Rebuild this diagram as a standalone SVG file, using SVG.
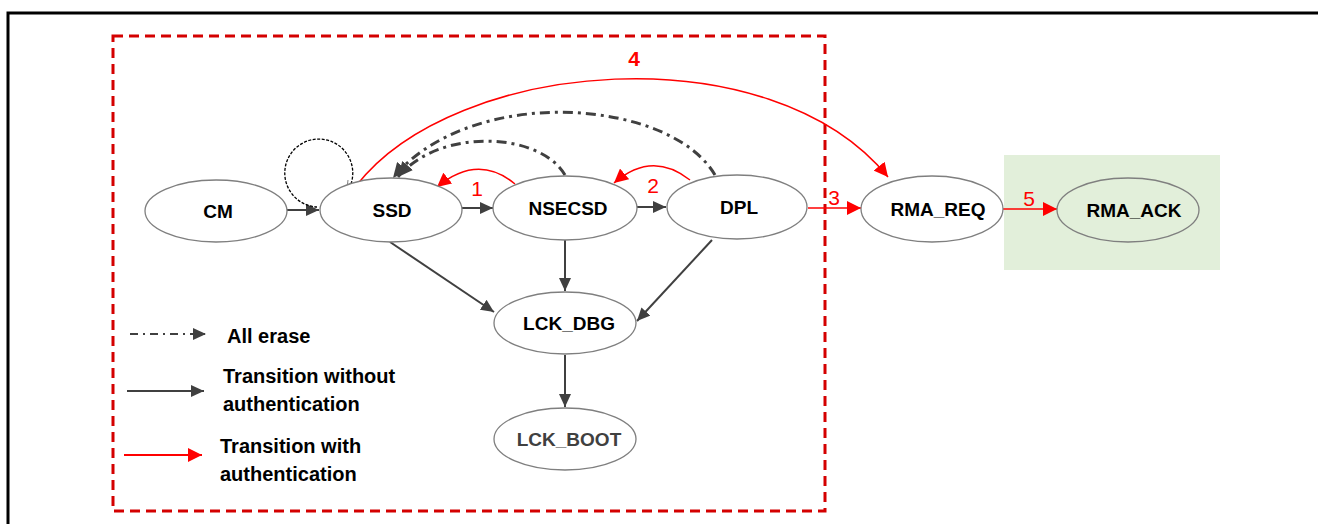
<svg xmlns="http://www.w3.org/2000/svg" width="1318" height="524" viewBox="0 0 1318 524">
  <style>
    .node ellipse { fill: #ffffff; stroke: #7f7f7f; stroke-width: 1.3; }
    .lbl { font-family: "Liberation Sans", Arial, sans-serif; font-weight: bold; font-size: 19px; fill: #000000; text-anchor: middle; }
    .leg { font-family: "Liberation Sans", Arial, sans-serif; font-weight: bold; font-size: 20px; fill: #000000; }
    .num { font-family: "Liberation Sans", Arial, sans-serif; font-size: 21px; fill: #ff0000; text-anchor: middle; }
    .plain { fill: none; stroke: #404040; stroke-width: 2; marker-end: url(#ah-gray); }
    .auth { fill: none; stroke: #ff0000; stroke-width: 1.5; marker-end: url(#ah-red); }
    .erase { fill: none; stroke: #404040; stroke-width: 3; stroke-dasharray: 10 5 3 5; marker-end: url(#ah-erase); }
  </style>
  <defs>
    <marker id="ah-gray" markerUnits="userSpaceOnUse" markerWidth="14" markerHeight="12" refX="13" refY="6" orient="auto">
      <path d="M0,0 L13,6 L0,12 z" fill="#404040"/>
    </marker>
    <marker id="ah-red" markerUnits="userSpaceOnUse" markerWidth="15" markerHeight="14" refX="14" refY="7" orient="auto">
      <path d="M0,0 L14,7 L0,14 z" fill="#ff0000"/>
    </marker>
    <marker id="ah-erase" markerUnits="userSpaceOnUse" markerWidth="16" markerHeight="14" refX="15" refY="7" orient="auto">
      <path d="M0,0 L15,7 L0,14 z" fill="#404040"/>
    </marker>
    <marker id="ah-tiny" markerUnits="userSpaceOnUse" markerWidth="6" markerHeight="6" refX="5" refY="3" orient="auto">
      <path d="M0,0 L5,3 L0,6 z" fill="#7f7f7f"/>
    </marker>
  </defs>

  <!-- frame -->
  <path d="M8,524 L8,13 L1318,13" fill="none" stroke="#000000" stroke-width="3"/>

  <!-- secure boundary -->
  <rect x="113" y="36" width="712" height="475" fill="none" stroke="#d40000" stroke-width="3" stroke-dasharray="10 6"/>

  <!-- RMA acknowledged zone -->
  <rect x="1004" y="155" width="216" height="115" fill="#e2efda"/>

  <!-- connectors -->
  <g id="connectors">
    <line class="plain" x1="287" y1="210" x2="319" y2="210"/>
    <line class="plain" x1="462" y1="208" x2="493" y2="208"/>
    <line class="plain" x1="637" y1="207" x2="666" y2="207"/>
    <line class="plain" x1="390" y1="242" x2="494" y2="312"/>
    <line class="plain" x1="565" y1="240" x2="565" y2="291"/>
    <line class="plain" x1="712" y1="240" x2="637" y2="321"/>
    <line class="plain" x1="565" y1="355" x2="565" y2="407"/>

    <!-- SSD self loop -->
    <path d="M347,192 A34,34 0 1 0 317,207" fill="none" stroke="#000000" stroke-width="1.3" stroke-dasharray="3 1.5"/>
    <line x1="348" y1="180" x2="346" y2="197" stroke="#7f7f7f" stroke-width="1" marker-end="url(#ah-tiny)"/>

    <!-- all erase -->
    <path class="erase" d="M565,175 C540,132 440,127 398,177"/>
    <path class="erase" d="M715,175 C670,98 470,84 393,178"/>

    <!-- authenticated transitions -->
    <path class="auth" d="M515,184 Q478,153 437,187"/>
    <path class="auth" d="M690,180 Q652,150 614,183"/>
    <path class="auth" d="M356,186 C455,58 770,32 888,177"/>
    <line class="auth" x1="808" y1="208" x2="861" y2="208"/>
    <line class="auth" x1="1003" y1="209" x2="1057" y2="209"/>

    <text class="num" x="477" y="196">1</text>
    <text class="num" x="653" y="193">2</text>
    <text class="num" x="834" y="205">3</text>
    <text class="num" x="634" y="66" style="font-weight:bold">4</text>
    <text class="num" x="1029" y="206">5</text>
  </g>

  <!-- states -->
  <g id="cm" class="node">
    <ellipse cx="216" cy="211" rx="71" ry="31"/>
    <text class="lbl" x="218" y="218">CM</text>
  </g>
  <g id="ssd" class="node">
    <ellipse cx="391" cy="210" rx="71" ry="32"/>
    <text class="lbl" x="392" y="217">SSD</text>
  </g>
  <g id="nsecsd" class="node">
    <ellipse cx="565" cy="208" rx="72" ry="32"/>
    <text class="lbl" x="568" y="215">NSECSD</text>
  </g>
  <g id="dpl" class="node">
    <ellipse cx="737" cy="207" rx="70" ry="32"/>
    <text class="lbl" x="739" y="214">DPL</text>
  </g>
  <g id="rma_req" class="node">
    <ellipse cx="932" cy="209" rx="71" ry="33"/>
    <text class="lbl" x="938" y="216">RMA_REQ</text>
  </g>
  <g id="rma_ack" class="node">
    <ellipse cx="1128" cy="210" rx="71" ry="32" style="fill:#e2efda"/>
    <text class="lbl" x="1134" y="217">RMA_ACK</text>
  </g>
  <g id="lck_dbg" class="node">
    <ellipse cx="565" cy="323" rx="71" ry="31"/>
    <text class="lbl" x="569" y="330">LCK_DBG</text>
  </g>
  <g id="lck_boot" class="node">
    <ellipse cx="565" cy="439" rx="71" ry="31"/>
    <text class="lbl" x="569" y="446" style="fill:#404040">LCK_BOOT</text>
  </g>

  <!-- legend -->
  <g id="legend">
    <line x1="130" y1="334" x2="206" y2="334" stroke="#404040" stroke-width="2" stroke-dasharray="8 5 2 5" marker-end="url(#ah-gray)"/>
    <text class="leg" x="227" y="343">All erase</text>
    <line x1="127" y1="391" x2="204" y2="391" stroke="#404040" stroke-width="2" marker-end="url(#ah-gray)"/>
    <text class="leg" x="223" y="383">Transition without</text>
    <text class="leg" x="223" y="411">authentication</text>
    <line x1="124" y1="455" x2="202" y2="455" stroke="#ff0000" stroke-width="2" marker-end="url(#ah-red)"/>
    <text class="leg" x="220" y="453">Transition with</text>
    <text class="leg" x="220" y="481">authentication</text>
  </g>
</svg>
